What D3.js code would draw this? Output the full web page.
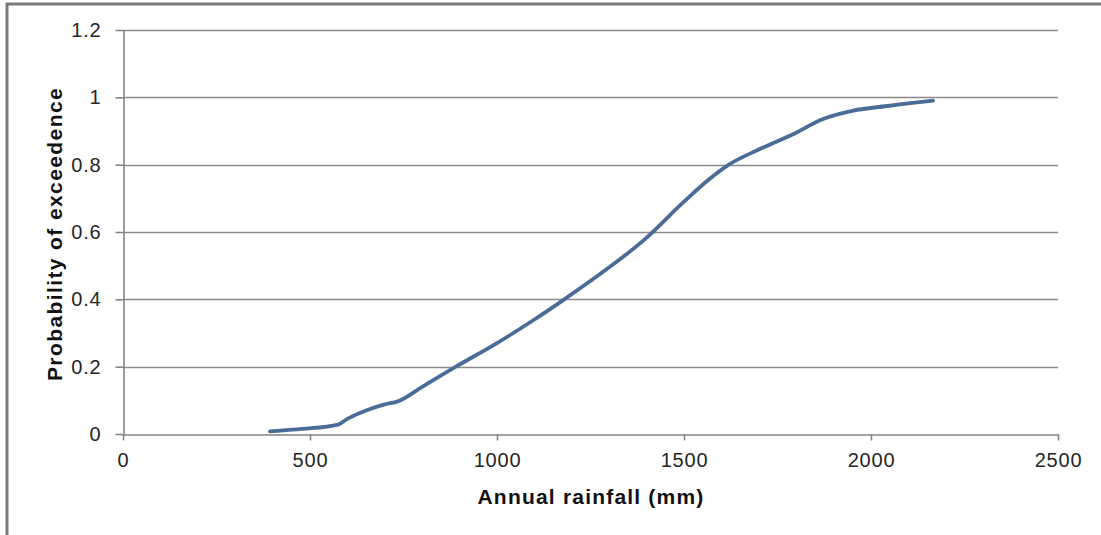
<!DOCTYPE html>
<html>
<head>
<meta charset="utf-8">
<script src="https://cdn.jsdelivr.net/npm/d3@7"></script>
<style>
  body { margin: 0; background: #fff; }
  svg { display: block; font-family: "Liberation Sans", Arial, sans-serif; }
</style>
</head>
<body>
<svg id="chart" width="1101" height="535"></svg>
<script>
// rainfall (mm) and probability of exceedence
const rainfall = [393, 480, 575, 600, 650, 700, 735, 800, 890, 1000, 1100, 1180, 1300, 1395, 1500, 1560, 1620, 1700, 1800, 1870, 1950, 2050, 2166];
const probability = [0.008, 0.015, 0.028, 0.045, 0.07, 0.088, 0.097, 0.14, 0.2, 0.27, 0.34, 0.4, 0.495, 0.578, 0.69, 0.75, 0.80, 0.845, 0.895, 0.935, 0.96, 0.975, 0.99];
const xTicks = [0, 500, 1000, 1500, 2000, 2500];
const yTicks = [0, 0.2, 0.4, 0.6, 0.8, 1, 1.2];

const svg = d3.select('#chart');
const margin = { top: 30, right: 43, bottom: 101, left: 123 },
  width = 1101 - margin.left - margin.right,
  height = 535 - margin.top - margin.bottom;

// outer frame (left and top edges only)
svg.append('line').attr('x1', 7).attr('x2', 7).attr('y1', 3).attr('y2', 535)
  .attr('stroke', '#7a7a7a').attr('stroke-width', 3);
svg.append('line').attr('x1', 6).attr('x2', 1101).attr('y1', 4).attr('y2', 4)
  .attr('stroke', '#7a7a7a').attr('stroke-width', 3);

const x = d3.scaleLinear().domain([0, 2500]).range([0, width]);
const y = d3.scaleLinear().domain([0, 1.2]).range([height, 0]);

const g = svg.append('g')
  .attr('transform', 'translate(' + margin.left + ',' + margin.top + ')');

// horizontal gridlines
g.selectAll('.grid')
  .data(yTicks.filter(d => d > 0))
  .enter().append('line')
  .attr('class', 'grid')
  .attr('x1', 0).attr('x2', width)
  .attr('y1', d => Math.round(y(d)) + 0.5).attr('y2', d => Math.round(y(d)) + 0.5)
  .attr('stroke', '#8a8a8a').attr('stroke-width', 1.3);

g.append('g')
  .attr('class', 'axis axis--x')
  .attr('transform', 'translate(0,' + (height + 0.5) + ')')
  .call(d3.axisBottom(x).tickValues(xTicks).tickSize(6).tickPadding(12).tickSizeOuter(0)
    .tickFormat(d3.format('d')));

g.append('g')
  .attr('class', 'axis axis--y')
  .attr('transform', 'translate(0.5,0)')
  .call(d3.axisLeft(y).tickValues(yTicks).tickSize(8).tickPadding(14).tickSizeOuter(0)
    .tickFormat(d => String(+d.toFixed(1))));

svg.selectAll('.axis path, .axis line').attr('stroke', '#858585').attr('stroke-width', 1.6);
svg.selectAll('.axis text').attr('font-size', 20).attr('fill', '#262626')
  .attr('letter-spacing', 0.8)
  .attr('font-family', '"Liberation Sans", Arial, sans-serif');

const line = d3.line()
  .x((d, i) => x(rainfall[i]))
  .y(d => y(d))
  .curve(d3.curveMonotoneX);

g.append('path')
  .datum(probability)
  .attr('fill', 'none')
  .attr('stroke', '#4a6c96')
  .attr('stroke-width', 3.8)
  .attr('stroke-linecap', 'round')
  .attr('d', line);

svg.append('text')
  .attr('x', 591).attr('y', 504)
  .attr('text-anchor', 'middle')
  .attr('font-size', 21).attr('font-weight', 'bold').attr('fill', '#111')
  .attr('letter-spacing', 1.2)
  .text('Annual rainfall (mm)');

svg.append('text')
  .attr('transform', 'translate(62,234) rotate(-90)')
  .attr('text-anchor', 'middle')
  .attr('font-size', 21).attr('font-weight', 'bold').attr('fill', '#111')
  .attr('letter-spacing', 1.4)
  .text('Probability of exceedence');
</script>
</body>
</html>
